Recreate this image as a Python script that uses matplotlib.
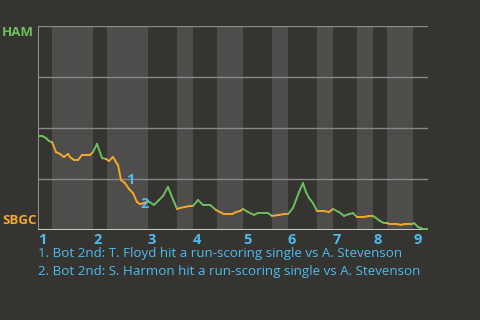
import matplotlib
matplotlib.use("Agg")
import matplotlib.pyplot as plt
import numpy as np
from matplotlib.collections import LineCollection

# ---- data ----
# game progress (play index) and HAM win probability
play = [0.0, 1.0, 2.0, 2.75, 3.5,
        4.5, 5.5, 6.5, 7.5, 8.0, 9.0, 10.0, 11.0, 12.0, 13.0, 13.75,
        14.75, 16.0, 17.0,
        17.75, 18.75, 19.5, 20.0, 20.75, 21.75, 22.75, 23.75, 24.75, 25.5, 26.5, 27.5,
        29.0, 30.25, 31.25, 32.5, 33.5, 34.75,
        35.5, 36.75, 38.0, 38.75,
        40.0, 41.25, 43.0, 44.5,
        45.5, 46.5, 48.5, 49.5, 50.5, 51.25,
        52.5, 54.0, 55.0, 57.5, 58.5,
        60.25, 61.5, 62.5,
        63.75, 64.5, 65.25, 66.25, 67.0, 67.75, 68.75, 69.75,
        71.5, 72.75, 73.75,
        75.25, 76.5, 77.75, 78.75, 79.75,
        81.5, 82.75, 83.75,
        84.5, 85.5, 86.5, 87.25,
        88.0, 89.75, 90.75, 91.5, 93.5,
        94.0, 95.0, 96.25, 97.5]
ham_wp = [0.461, 0.461, 0.451, 0.436, 0.431,
          0.382, 0.373, 0.358, 0.373, 0.358, 0.343, 0.343, 0.368, 0.368, 0.368, 0.382,
          0.422, 0.353, 0.348,
          0.338, 0.358, 0.333, 0.319, 0.245, 0.230, 0.201, 0.181, 0.137, 0.127, 0.132, 0.142,
          0.123, 0.147, 0.167, 0.211, 0.162, 0.103,
          0.108, 0.113, 0.118, 0.118,
          0.147, 0.123, 0.123, 0.098,
          0.088, 0.078, 0.078, 0.088, 0.093, 0.103,
          0.088, 0.074, 0.083, 0.083, 0.069,
          0.074, 0.078, 0.078,
          0.108, 0.147, 0.186, 0.230, 0.186, 0.157, 0.132, 0.093,
          0.093, 0.088, 0.103,
          0.088, 0.069, 0.078, 0.083, 0.064,
          0.064, 0.069, 0.069,
          0.059, 0.044, 0.034, 0.034,
          0.029, 0.029, 0.025, 0.029, 0.029,
          0.034, 0.015, 0.005, 0.005]

# half-inning start positions (top 1st, bot 1st, top 2nd, ...)
half_starts = [0.0, 3.5, 13.75, 17.25, 27.5, 34.75, 38.75, 44.75, 51.25,
               58.5, 62.5, 69.75, 73.75, 79.75, 83.75, 87.25, 93.75]
game_end = 97.5
inning_labels = ["1", "2", "3", "4", "5", "6", "7", "8", "9"]

notes_x = [23.0, 26.75]
notes_y = [0.245, 0.125]
notes_label = ["1", "2"]
notes_text = ["1. Bot 2nd: T. Floyd hit a run-scoring single vs A. Stevenson",
              "2. Bot 2nd: S. Harmon hit a run-scoring single vs A. Stevenson"]

away_team, home_team = "HAM", "SBGC"

# ---- style ----
BG = "#363431"
BAND = "#4f4d4b"
GREEN = "#6dbf5f"
ORANGE = "#f3a82a"
BLUE = "#4bbcf0"
GRID = "#8a8886"
FONT = "Open Sans"

fig = plt.figure(figsize=(4.8, 3.2), dpi=100, facecolor=BG)
ax = fig.add_axes([38/480, 90/320, 390/480, 204/320])
ax.set_facecolor(BG)
ax.set_xlim(0, game_end)
ax.set_ylim(0, 1)

# bands: bottom halves shaded
bounds = half_starts + [game_end]
for i in range(len(half_starts)):
    if i % 2 == 1:
        ax.axvspan(bounds[i], bounds[i+1], color=BAND, lw=0, zorder=0)

for gy in [0.25, 0.5, 0.75, 1.0]:
    ax.axhline(gy, color=GRID, lw=1.0, zorder=1)

for s in ax.spines.values():
    s.set_visible(False)
ax.axvline(0, color="#a8a6a4", lw=1.2, zorder=2)
ax.axhline(0, color="#c8c6c4", lw=1.5, zorder=2)

# line segments colored by batting team
pts = np.column_stack([play, ham_wp])
segs = np.stack([pts[:-1], pts[1:]], axis=1)
colors = []
for a, b in zip(play[:-1], play[1:]):
    mid = (a + b) / 2
    idx = np.searchsorted(half_starts, mid, side="right") - 1
    colors.append(GREEN if idx % 2 == 0 else ORANGE)
lc = LineCollection(segs, colors=colors, linewidths=1.4, zorder=3,
                    capstyle="round", joinstyle="round")
ax.add_collection(lc)

for x, y, t in zip(notes_x, notes_y, notes_label):
    ax.text(x, y, t, color=BLUE, fontsize=10.5, fontweight="bold", family=FONT,
            ha="center", va="center", zorder=4)

ax.set_xticks([])
ax.set_yticks([])

# inning labels at each top-half start
for lab, x in zip(inning_labels, half_starts[0::2]):
    ax.text(x, -0.015, lab, color=BLUE, fontsize=10.5, fontweight="bold",
            family=FONT, ha="left", va="top", transform=ax.transData)

fig.text(2/480, 1 - 33/320, away_team, color=GREEN, fontsize=9.5,
         fontweight="bold", family=FONT, ha="left", va="center")
fig.text(2/480, 1 - 221/320, home_team, color=ORANGE, fontsize=9.5,
         fontweight="bold", family=FONT, ha="left", va="center")

for i, t in enumerate(notes_text):
    fig.text(38/480, 1 - (253 + 18*i)/320, t, color=BLUE, fontsize=9.6,
             family=FONT, ha="left", va="center")

fig.savefig("out.png", dpi=100, facecolor=BG)
